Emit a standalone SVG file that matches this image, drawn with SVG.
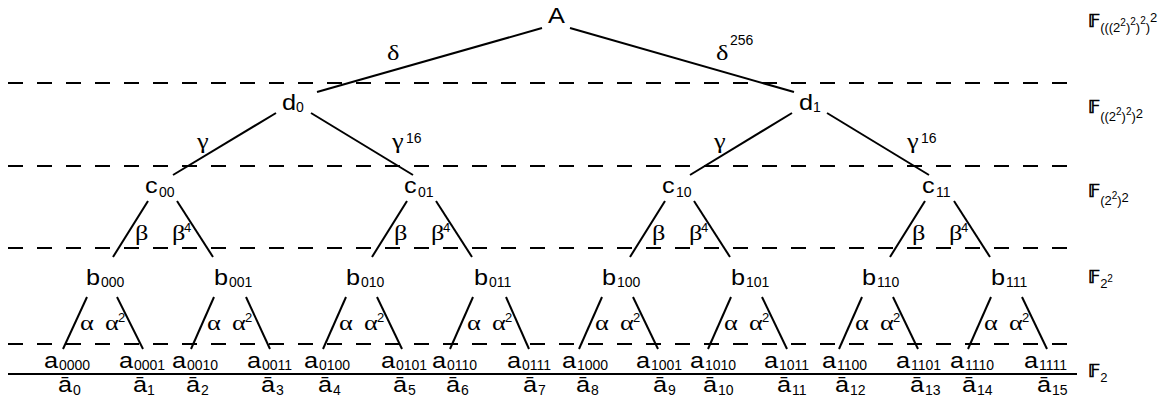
<svg xmlns="http://www.w3.org/2000/svg" width="1169" height="403" viewBox="0 0 1169 403">
<style>
.n{font-family:"Liberation Sans",Arial,sans-serif;font-size:22px;fill:#000}
.s{font-family:"Liberation Sans",Arial,sans-serif;font-size:14px;fill:#000}
.g{font-family:"Liberation Serif","Times New Roman",serif;font-size:22px;fill:#000}
.sp{font-family:"Liberation Sans",Arial,sans-serif;font-size:14px}
.sp2{font-family:"Liberation Sans",Arial,sans-serif;font-size:13px}
.e{stroke:#000;stroke-width:2;fill:none}
.d{stroke:#000;stroke-width:2;stroke-dasharray:15 14;fill:none}
.F{font-family:"DejaVu Sans",sans-serif;font-size:18px;fill:#000;stroke:#000;stroke-width:0.7}
.fs{font-family:"Liberation Sans",Arial,sans-serif;font-size:13px;stroke:none}
.fp{font-family:"Liberation Sans",Arial,sans-serif;font-size:10px;stroke:none}
</style>
<rect width="1169" height="403" fill="#fff"/>
<g id="layers">
<line class="d" x1="8" y1="83" x2="1072" y2="83"/>
<line class="d" x1="8" y1="166" x2="1072" y2="166"/>
<line class="d" x1="8" y1="248" x2="1072" y2="248"/>
<line class="d" x1="8" y1="344" x2="1072" y2="344"/>
<line class="e" x1="8" y1="374" x2="1077" y2="374"/>
</g>
<g id="connectors">
<line class="e" x1="542" y1="28" x2="317" y2="92"/>
<line class="e" x1="570" y1="28" x2="794" y2="92"/>
<line class="e" x1="276" y1="113" x2="173" y2="175"/>
<line class="e" x1="311" y1="113" x2="413" y2="175"/>
<line class="e" x1="792" y1="113" x2="690" y2="175"/>
<line class="e" x1="827" y1="113" x2="929" y2="175"/>
<line class="e" x1="148" y1="201" x2="113" y2="257"/>
<line class="e" x1="177" y1="201" x2="213" y2="257"/>
<line class="e" x1="407" y1="201" x2="372" y2="257"/>
<line class="e" x1="436" y1="201" x2="472" y2="257"/>
<line class="e" x1="665" y1="201" x2="630" y2="257"/>
<line class="e" x1="694" y1="201" x2="730" y2="257"/>
<line class="e" x1="925" y1="201" x2="890" y2="257"/>
<line class="e" x1="954" y1="201" x2="990" y2="257"/>
<line class="e" x1="87" y1="297" x2="63" y2="349"/>
<line class="e" x1="117" y1="297" x2="143" y2="349"/>
<line class="e" x1="214" y1="297" x2="191" y2="349"/>
<line class="e" x1="246" y1="297" x2="270" y2="349"/>
<line class="e" x1="346" y1="297" x2="323" y2="349"/>
<line class="e" x1="377" y1="297" x2="402" y2="349"/>
<line class="e" x1="473" y1="297" x2="450" y2="349"/>
<line class="e" x1="506" y1="297" x2="529" y2="349"/>
<line class="e" x1="602" y1="297" x2="579" y2="349"/>
<line class="e" x1="633" y1="297" x2="658" y2="349"/>
<line class="e" x1="731" y1="297" x2="708" y2="349"/>
<line class="e" x1="762" y1="297" x2="787" y2="349"/>
<line class="e" x1="862" y1="297" x2="839" y2="349"/>
<line class="e" x1="893" y1="297" x2="918" y2="349"/>
<line class="e" x1="991" y1="297" x2="968" y2="349"/>
<line class="e" x1="1022" y1="297" x2="1047" y2="349"/>
<g id="edge-labels">
<text class="g" transform="matrix(1.2 0 0 1 387 60)">δ</text>
<text class="g" transform="matrix(1.2 0 0 1 716 60)">δ</text><text class="sp" x="730" y="45">256</text>
<text class="g" transform="matrix(1.2 0 0 1 197 148)">γ</text>
<text class="g" transform="matrix(1.2 0 0 1 392 148)">γ</text><text class="sp" x="406" y="143">16</text>
<text class="g" transform="matrix(1.2 0 0 1 714 148)">γ</text>
<text class="g" transform="matrix(1.2 0 0 1 907 148)">γ</text><text class="sp" x="921" y="143">16</text>
<text class="g" transform="matrix(1.2 0 0 1 135 240)">β</text><text class="g" transform="matrix(1.2 0 0 1 172 240)">β</text><text class="sp2" x="184" y="232">4</text>
<text class="g" transform="matrix(1.2 0 0 1 394 240)">β</text><text class="g" transform="matrix(1.2 0 0 1 431 240)">β</text><text class="sp2" x="443" y="232">4</text>
<text class="g" transform="matrix(1.2 0 0 1 652 240)">β</text><text class="g" transform="matrix(1.2 0 0 1 689 240)">β</text><text class="sp2" x="701" y="232">4</text>
<text class="g" transform="matrix(1.2 0 0 1 912 240)">β</text><text class="g" transform="matrix(1.2 0 0 1 949 240)">β</text><text class="sp2" x="961" y="232">4</text>
<text class="g" transform="matrix(1.2 0 0 1 80 330)">α</text><text class="g" transform="matrix(1.2 0 0 1 105 330)">α</text><text class="sp2" x="118" y="322">2</text>
<text class="g" transform="matrix(1.2 0 0 1 207 330)">α</text><text class="g" transform="matrix(1.2 0 0 1 232 330)">α</text><text class="sp2" x="245" y="322">2</text>
<text class="g" transform="matrix(1.2 0 0 1 339 330)">α</text><text class="g" transform="matrix(1.2 0 0 1 364 330)">α</text><text class="sp2" x="377" y="322">2</text>
<text class="g" transform="matrix(1.2 0 0 1 467 330)">α</text><text class="g" transform="matrix(1.2 0 0 1 492 330)">α</text><text class="sp2" x="505" y="322">2</text>
<text class="g" transform="matrix(1.2 0 0 1 595 330)">α</text><text class="g" transform="matrix(1.2 0 0 1 620 330)">α</text><text class="sp2" x="633" y="322">2</text>
<text class="g" transform="matrix(1.2 0 0 1 724 330)">α</text><text class="g" transform="matrix(1.2 0 0 1 749 330)">α</text><text class="sp2" x="762" y="322">2</text>
<text class="g" transform="matrix(1.2 0 0 1 855 330)">α</text><text class="g" transform="matrix(1.2 0 0 1 880 330)">α</text><text class="sp2" x="893" y="322">2</text>
<text class="g" transform="matrix(1.2 0 0 1 984 330)">α</text><text class="g" transform="matrix(1.2 0 0 1 1009 330)">α</text><text class="sp2" x="1022" y="322">2</text>
</g>
</g>
<g id="A"><text class="n" transform="matrix(1.15 0 0 1 548 23)">A</text></g>
<g id="d0"><text class="n" transform="matrix(1.15 0 0 1 282 110)">d</text><text class="s" x="296" y="112">0</text></g>
<g id="d1"><text class="n" transform="matrix(1.15 0 0 1 799 110)">d</text><text class="s" x="813" y="112">1</text></g>
<g id="c00"><text class="n" transform="matrix(1.15 0 0 1 145 193)">c</text><text class="s" x="159" y="197">00</text></g>
<g id="c01"><text class="n" transform="matrix(1.15 0 0 1 404 193)">c</text><text class="s" x="418" y="197">01</text></g>
<g id="c10"><text class="n" transform="matrix(1.15 0 0 1 662 193)">c</text><text class="s" x="676" y="197">10</text></g>
<g id="c11"><text class="n" transform="matrix(1.15 0 0 1 922 193)">c</text><text class="s" x="936" y="197">11</text></g>
<g id="b000"><text class="n" transform="matrix(1.15 0 0 1 86 285)">b</text><text class="s" x="101" y="287">000</text></g>
<g id="b001"><text class="n" transform="matrix(1.15 0 0 1 214 285)">b</text><text class="s" x="229" y="287">001</text></g>
<g id="b010"><text class="n" transform="matrix(1.15 0 0 1 346 285)">b</text><text class="s" x="361" y="287">010</text></g>
<g id="b011"><text class="n" transform="matrix(1.15 0 0 1 474 285)">b</text><text class="s" x="489" y="287">011</text></g>
<g id="b100"><text class="n" transform="matrix(1.15 0 0 1 602 285)">b</text><text class="s" x="617" y="287">100</text></g>
<g id="b101"><text class="n" transform="matrix(1.15 0 0 1 731 285)">b</text><text class="s" x="746" y="287">101</text></g>
<g id="b110"><text class="n" transform="matrix(1.15 0 0 1 862 285)">b</text><text class="s" x="877" y="287">110</text></g>
<g id="b111"><text class="n" transform="matrix(1.15 0 0 1 991 285)">b</text><text class="s" x="1006" y="287">111</text></g>
<g id="a0000"><text class="n" transform="matrix(1.15 0 0 1 44 368)">a</text><text class="s" x="59" y="370">0000</text></g>
<g id="a0001"><text class="n" transform="matrix(1.15 0 0 1 119 368)">a</text><text class="s" x="134" y="370">0001</text></g>
<g id="a0010"><text class="n" transform="matrix(1.15 0 0 1 172 368)">a</text><text class="s" x="187" y="370">0010</text></g>
<g id="a0011"><text class="n" transform="matrix(1.15 0 0 1 247 368)">a</text><text class="s" x="262" y="370">0011</text></g>
<g id="a0100"><text class="n" transform="matrix(1.15 0 0 1 304 368)">a</text><text class="s" x="319" y="370">0100</text></g>
<g id="a0101"><text class="n" transform="matrix(1.15 0 0 1 381 368)">a</text><text class="s" x="396" y="370">0101</text></g>
<g id="a0110"><text class="n" transform="matrix(1.15 0 0 1 432 368)">a</text><text class="s" x="447" y="370">0110</text></g>
<g id="a0111"><text class="n" transform="matrix(1.15 0 0 1 507 368)">a</text><text class="s" x="522" y="370">0111</text></g>
<g id="a1000"><text class="n" transform="matrix(1.15 0 0 1 562 368)">a</text><text class="s" x="577" y="370">1000</text></g>
<g id="a1001"><text class="n" transform="matrix(1.15 0 0 1 636 368)">a</text><text class="s" x="651" y="370">1001</text></g>
<g id="a1010"><text class="n" transform="matrix(1.15 0 0 1 690 368)">a</text><text class="s" x="705" y="370">1010</text></g>
<g id="a1011"><text class="n" transform="matrix(1.15 0 0 1 764 368)">a</text><text class="s" x="779" y="370">1011</text></g>
<g id="a1100"><text class="n" transform="matrix(1.15 0 0 1 822 368)">a</text><text class="s" x="837" y="370">1100</text></g>
<g id="a1101"><text class="n" transform="matrix(1.15 0 0 1 896 368)">a</text><text class="s" x="911" y="370">1101</text></g>
<g id="a1110"><text class="n" transform="matrix(1.15 0 0 1 950 368)">a</text><text class="s" x="965" y="370">1110</text></g>
<g id="a1111"><text class="n" transform="matrix(1.15 0 0 1 1024 368)">a</text><text class="s" x="1039" y="370">1111</text></g>
<g id="abar0"><text class="n" transform="matrix(1.15 0 0 1 58 392)">ā</text><text class="s" x="73" y="395">0</text></g>
<g id="abar1"><text class="n" transform="matrix(1.15 0 0 1 133 392)">ā</text><text class="s" x="147" y="395">1</text></g>
<g id="abar2"><text class="n" transform="matrix(1.15 0 0 1 186 392)">ā</text><text class="s" x="201" y="395">2</text></g>
<g id="abar3"><text class="n" transform="matrix(1.15 0 0 1 261 392)">ā</text><text class="s" x="276" y="395">3</text></g>
<g id="abar4"><text class="n" transform="matrix(1.15 0 0 1 318 392)">ā</text><text class="s" x="333" y="395">4</text></g>
<g id="abar5"><text class="n" transform="matrix(1.15 0 0 1 393 392)">ā</text><text class="s" x="408" y="395">5</text></g>
<g id="abar6"><text class="n" transform="matrix(1.15 0 0 1 446 392)">ā</text><text class="s" x="461" y="395">6</text></g>
<g id="abar7"><text class="n" transform="matrix(1.15 0 0 1 523 392)">ā</text><text class="s" x="538" y="395">7</text></g>
<g id="abar8"><text class="n" transform="matrix(1.15 0 0 1 576 392)">ā</text><text class="s" x="591" y="395">8</text></g>
<g id="abar9"><text class="n" transform="matrix(1.15 0 0 1 653 392)">ā</text><text class="s" x="668" y="395">9</text></g>
<g id="abar10"><text class="n" transform="matrix(1.15 0 0 1 703 392)">ā</text><text class="s" x="718" y="395">10</text></g>
<g id="abar11"><text class="n" transform="matrix(1.15 0 0 1 777 392)">ā</text><text class="s" x="792" y="395">11</text></g>
<g id="abar12"><text class="n" transform="matrix(1.15 0 0 1 835 392)">ā</text><text class="s" x="850" y="395">12</text></g>
<g id="abar13"><text class="n" transform="matrix(1.15 0 0 1 910 392)">ā</text><text class="s" x="925" y="395">13</text></g>
<g id="abar14"><text class="n" transform="matrix(1.15 0 0 1 962 392)">ā</text><text class="s" x="977" y="395">14</text></g>
<g id="abar15"><text class="n" transform="matrix(1.15 0 0 1 1037 392)">ā</text><text class="s" x="1052" y="395">15</text></g>
<g id="field-labels">
<text class="F" x="1088" y="27">𝔽<tspan class="fs" y="32">(((2</tspan><tspan class="fp" y="26">2</tspan><tspan class="fs" y="32">)</tspan><tspan class="fp" y="25">2</tspan><tspan class="fs" y="32">)</tspan><tspan class="fp" y="24">2</tspan><tspan class="fs" y="32">)</tspan><tspan class="fs" y="22">2</tspan></text>
<text class="F" x="1088" y="113">𝔽<tspan class="fs" y="121">((2</tspan><tspan class="fp" y="115">2</tspan><tspan class="fs" y="121">)</tspan><tspan class="fp" y="115">2</tspan><tspan class="fs" y="121">)</tspan><tspan class="fs" y="118">2</tspan></text>
<text class="F" x="1088" y="197">𝔽<tspan class="fs" y="205">(2</tspan><tspan class="fp" y="199">2</tspan><tspan class="fs" y="205">)</tspan><tspan class="fs" y="202">2</tspan></text>
<text class="F" x="1088" y="283">𝔽<tspan class="fs" y="288">2</tspan><tspan class="fp" y="282">2</tspan></text>
<text class="F" x="1088" y="377">𝔽<tspan class="fs" y="382">2</tspan></text>
</g>
</svg>
